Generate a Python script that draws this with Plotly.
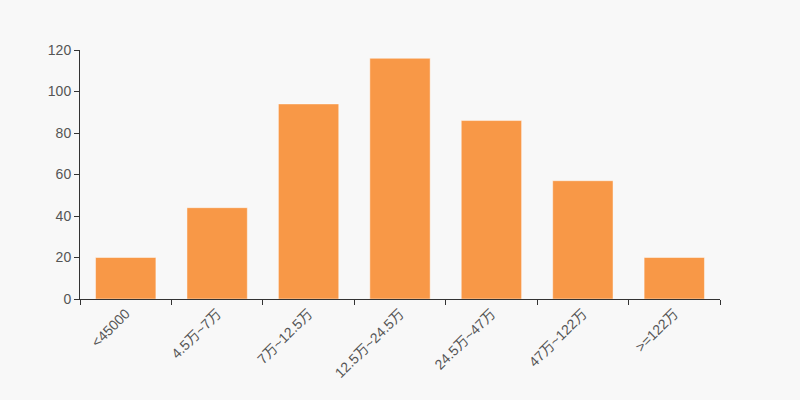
import plotly.graph_objects as go

# catégories de revenus et effectifs
categories = ['<45000', '4.5万~7万', '7万~12.5万', '12.5万~24.5万', '24.5万~47万', '47万~122万', '>=122万']
valeurs = [20, 44, 94, 116, 86, 57, 20]
ticks_y = [0, 20, 40, 60, 80, 100, 120]

couleur_barre = '#f89847'
fond = '#f8f8f8'

fig = go.Figure()
fig.add_trace(go.Bar(x=categories, y=valeurs,
                     marker=dict(color=couleur_barre, line=dict(color='rgba(255,255,255,0.45)', width=1))))

fig.update_layout(
    width=800, height=400,
    paper_bgcolor=fond, plot_bgcolor=fond,
    margin=dict(l=80, r=80, t=50, b=101),
    bargap=0.34,
    showlegend=False,
    font=dict(family='Liberation Sans, Noto Sans CJK SC, sans-serif', size=14, color='#555'),
)
fig.update_xaxes(showline=True, linecolor='#333', linewidth=1, ticks='outside', ticklen=5,
                 tickcolor='#333', tickson='boundaries', tickangle=-45, showgrid=False,
                 tickfont=dict(color='#555', size=14))
fig.update_yaxes(range=[0, 120], tickvals=ticks_y, showline=True, linecolor='#333', linewidth=1,
                 ticks='outside', ticklen=5, tickcolor='#333', showgrid=False, zeroline=False,
                 tickfont=dict(color='#555', size=14))

# enlever la marge blanche de la page et la barre d'outils
fig.write_html("out.html", config={'displayModeBar': False},
               post_script="document.body.style.margin='0';document.body.style.background='" + fond + "';")
